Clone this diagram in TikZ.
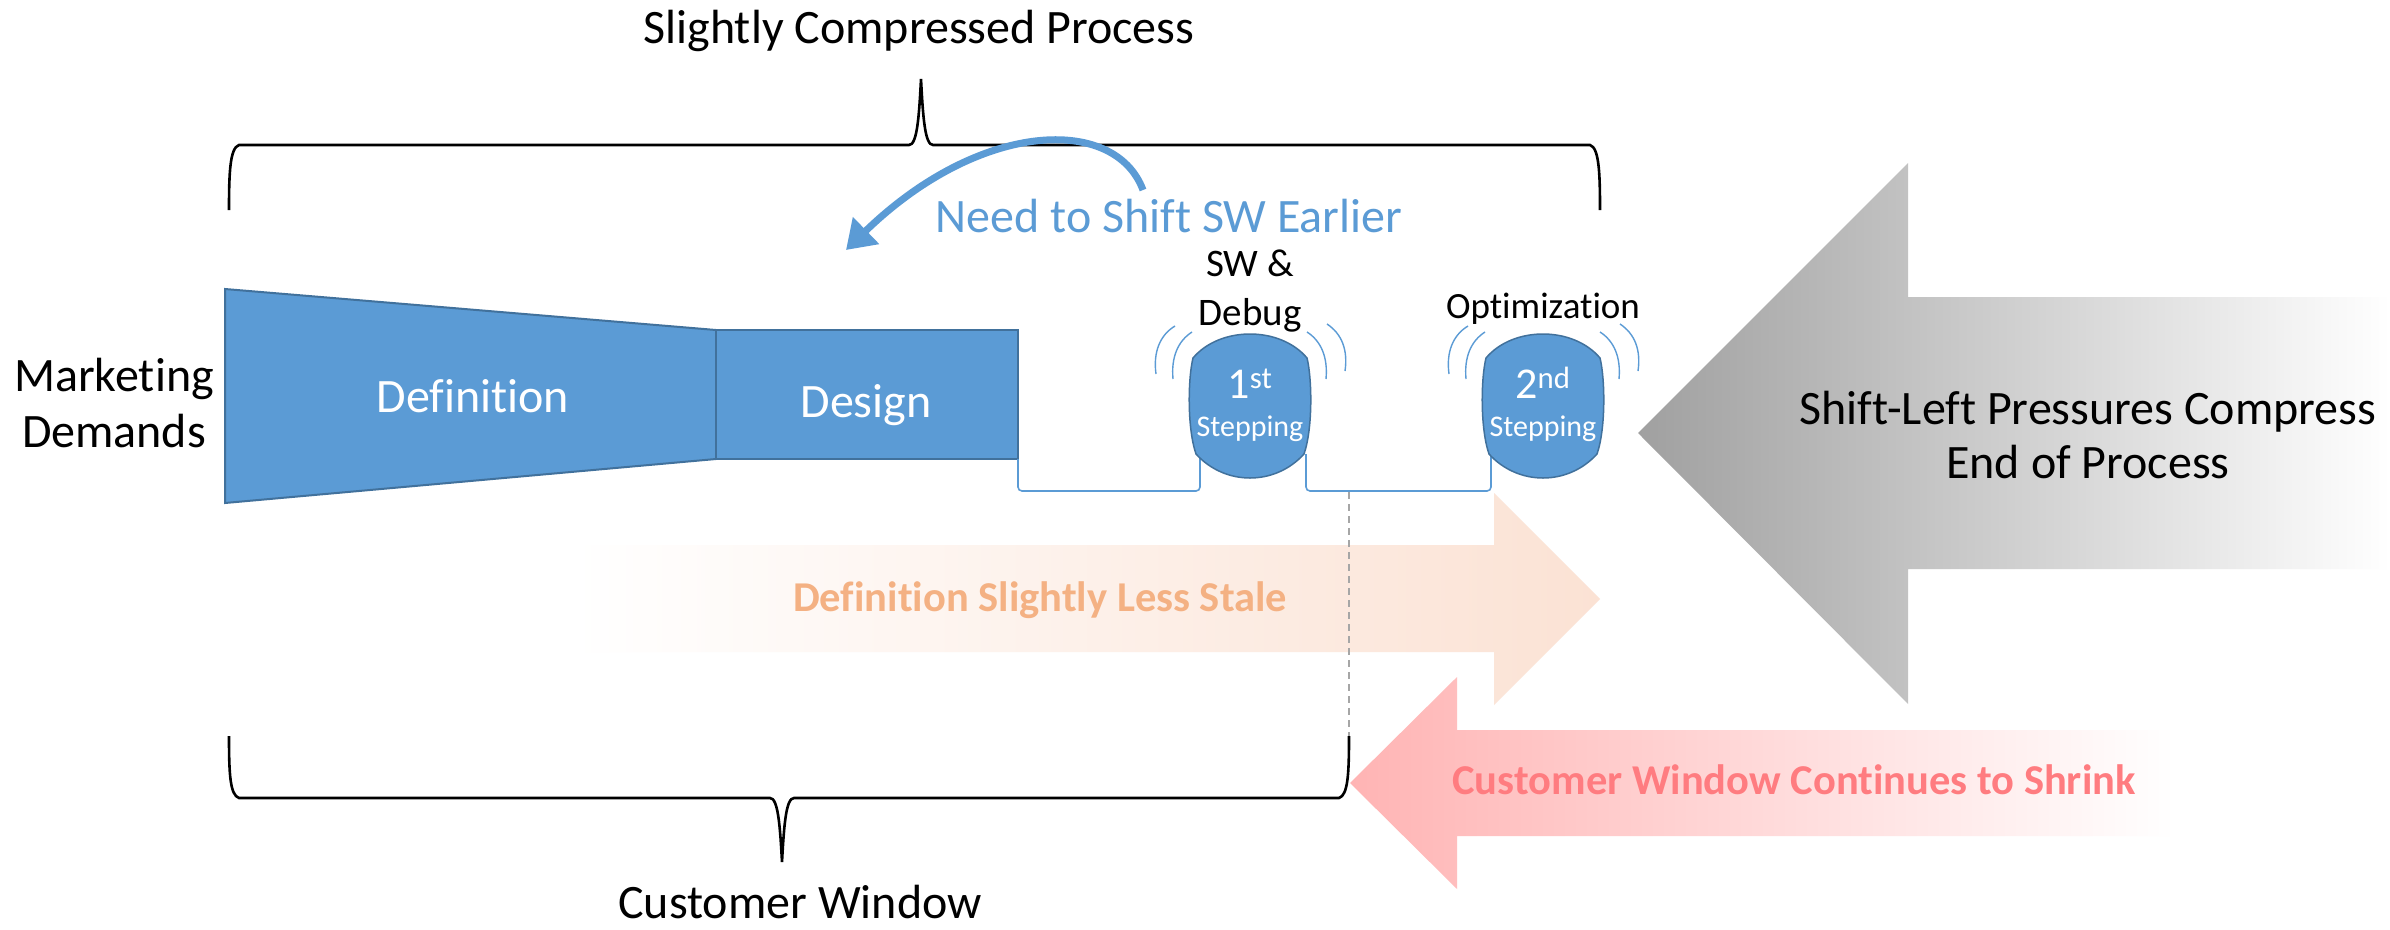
\documentclass[tikz,border=0pt]{standalone}
\usepackage{fontspec}
\setmainfont{Carlito}[Ligatures=CommonOff]
\usetikzlibrary{arrows.meta}
\definecolor{msblue}{HTML}{5B9BD5}
\definecolor{msblueD}{HTML}{41719C}
\definecolor{staleT}{HTML}{F4B183}
\definecolor{staleA}{HTML}{FBE2D4}
\definecolor{shrinkT}{HTML}{FF7C80}
\definecolor{shrinkA}{HTML}{FFB4B4}
\definecolor{greyA}{HTML}{A0A0A0}
\definecolor{dashG}{HTML}{A6A6A6}
\tikzset{
  lbl/.style={anchor=base, inner sep=0pt, font=\fontsize{48}{56}\selectfont},
  small/.style={anchor=base, inner sep=0pt, font=\fontsize{39}{46}\selectfont},
  boldlbl/.style={anchor=base, inner sep=0pt, font=\fontsize{42.5}{50}\selectfont\bfseries},
  blockshape/.style={fill=msblue, draw=msblueD, line width=2pt},
  wire/.style={draw=msblue, line width=1.6pt, rounded corners=4pt},
  wave/.style={draw=msblue, line width=1.4pt},
  bracestyle/.style={draw=black, line width=2.6pt},
}
\begin{document}
\begin{tikzpicture}[x=1pt,y=-1pt]
\useasboundingbox (0,0) rectangle (2390,929);
\fill[white] (0,0) rectangle (2390,929);

% big gradient arrows
\shade[left color=greyA, right color=white]
  (1638,433) -- (1908,163) -- (1908,297) -- (2390,297) -- (2390,569) -- (1908,569) -- (1908,704) -- cycle;
\shade[left color=white, right color=staleA]
  (573,545) -- (1494,545) -- (1494,493) -- (1600,599) -- (1494,705) -- (1494,652) -- (573,652) -- cycle;
\shade[left color=shrinkA, right color=white]
  (1350,783) -- (1457,677) -- (1457,730) -- (2175,730) -- (2175,836) -- (1457,836) -- (1457,889) -- cycle;

% dashed guide
\coordinate (dashTop) at (1349,492);
\coordinate (dashBot) at (1349,738);
\draw[dashG, line width=1.3pt, dash pattern=on 7pt off 5pt] (dashTop) -- (dashBot);

% definition and design
\path[blockshape] (225,289) -- (716,330) -- (716,459) -- (225,503) -- cycle;
\path[blockshape] (716,330) rectangle (1018,459);

% wires
\draw[wire] (1018,459) -- (1018,491) -- (1200,491) -- (1200,454);
\draw[wire] (1306,454) -- (1306,491) -- (1491,491) -- (1491,454);

% chips and waves
\foreach \cx/\nm in {1250/chipA,1543/chipB}{
  \path[blockshape, line width=1.5pt]
    (\cx-57,358) .. controls (\cx-30,326) and (\cx+30,326) .. (\cx+57,358)
    .. controls (\cx+62,378) and (\cx+63,428) .. (\cx+54,454)
    .. controls (\cx+25,486) and (\cx-25,486) .. (\cx-54,454)
    .. controls (\cx-63,428) and (\cx-62,378) .. cycle;
  \draw[wave] (\cx-75,326) .. controls (\cx-90,335) and (\cx-97,352) .. (\cx-94,374);
  \draw[wave] (\cx-58,332) .. controls (\cx-72,341) and (\cx-79,357) .. (\cx-77,379);
  \draw[wave] (\cx+57,332) .. controls (\cx+71,341) and (\cx+78,357) .. (\cx+76,379);
  \draw[wave] (\cx+77,324) .. controls (\cx+92,334) and (\cx+98,350) .. (\cx+95,371);
}

% braces
\draw[bracestyle] (229,210) .. controls (229,172) and (230,148) .. (239,145)
  -- (909,145) .. controls (917,145) and (919,118) .. (921,79)
  .. controls (923,118) and (925,145) .. (933,145)
  -- (1590,145) .. controls (1599,148) and (1600,172) .. (1600,210);
\draw[bracestyle] (229,736) .. controls (229,774) and (230,795) .. (239,798)
  -- (770,798) .. controls (778,798) and (780,825) .. (782,862)
  .. controls (784,825) and (786,798) .. (794,798)
  -- (1339,798) .. controls (1348,795) and (1349,774) .. (1349,736);

% curved blue arrow
\coordinate (needS) at (1143,190);
\coordinate (needE) at (846,250);
\draw[msblue, line width=7pt, -{Triangle[length=28pt,width=36pt]}]
  (needS) .. controls (1115,115) and (980,120) .. (needE);

% texts
\node[lbl] (title) at (919,43) {Slightly Compressed Process};
\node[lbl] (custwin) at (800,918) {Customer Window};
\node[lbl] (mk1) at (114,391) {Marketing};
\node[lbl] (mk2) at (114,447) {Demands};
\node[lbl, text=white] (def) at (473,412) {Definition};
\node[lbl, text=white] (des) at (866,417) {Design};
\node[lbl, text=msblue] (need) at (1169,232) {Need to Shift SW Earlier};
\node[small] (sw) at (1250,276) {SW \&};
\node[small] (debug) at (1250,325) {Debug};
\node[small, font=\fontsize{37}{44}\selectfont] (opt) at (1543,318) {Optimization};
\node[lbl, text=white, font=\fontsize{44}{50}\selectfont] (c1n) at (1250,398) {1\textsuperscript{st}};
\node[lbl, text=white, font=\fontsize{30}{36}\selectfont] (c1s) at (1250,436) {Stepping};
\node[lbl, text=white, font=\fontsize{44}{50}\selectfont] (c2n) at (1543,398) {2\textsuperscript{nd}};
\node[lbl, text=white, font=\fontsize{30}{36}\selectfont] (c2s) at (1543,436) {Stepping};
\node[lbl] (sh1) at (2088,424) {Shift-Left Pressures Compress};
\node[lbl] (sh2) at (2088,478) {End of Process};
\node[boldlbl, text=staleT] (stale) at (1040,611) {Definition Slightly Less Stale};
\node[boldlbl, text=shrinkT] (shrink) at (1794,794) {Customer Window Continues to Shrink};
\end{tikzpicture}
\end{document}
